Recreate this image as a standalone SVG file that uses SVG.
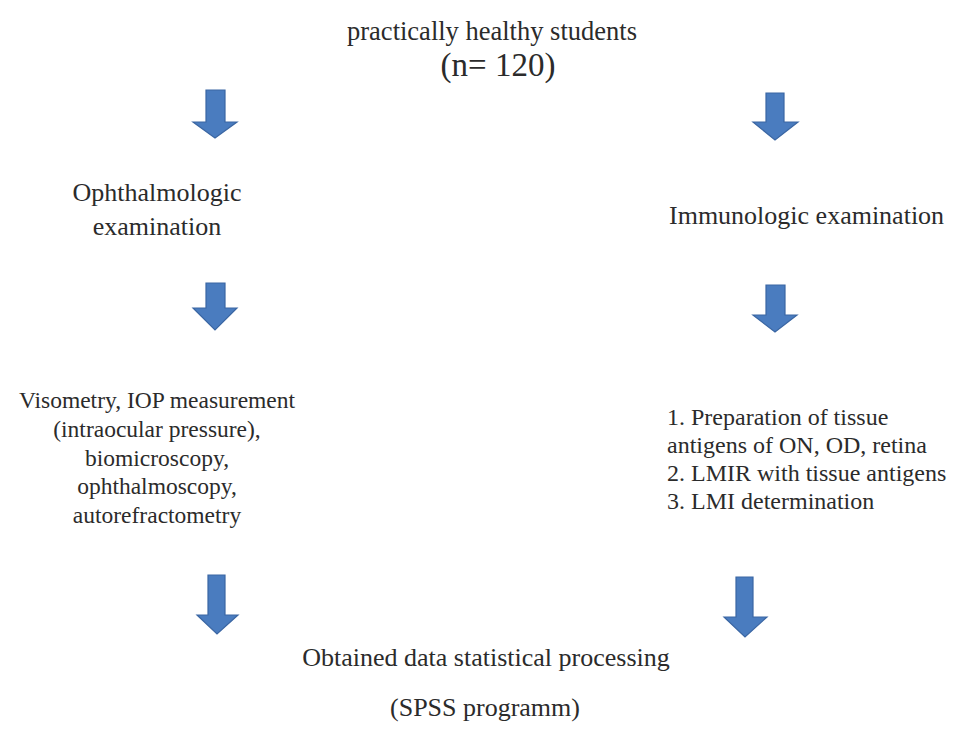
<svg xmlns="http://www.w3.org/2000/svg" width="960" height="732" viewBox="0 0 960 732">
<style>
text{font-family:"Liberation Serif","Times New Roman",serif;fill:#2b2b2b}
.t{font-size:26px}
.l{font-size:23.5px}
.r{font-size:24px}
.c{text-anchor:middle}
.arr{fill:#4a7cbf;stroke:#3a66a3;stroke-width:1.2;stroke-linejoin:miter}
</style>
<rect width="960" height="732" fill="#ffffff"/>
<g id="connectors">
<path class="arr" d="M206,90 H225 V122 H237 L215,138 L193,122 H206 Z"/>
<path class="arr" d="M766,93 H784 V122 H798 L775,140 L753,122 H766 Z"/>
<path class="arr" d="M206,283 H225 V308 H237 L215,330 L193,308 H206 Z"/>
<path class="arr" d="M766,285 H785 V315 H797 L775,332 L753,315 H766 Z"/>
<path class="arr" d="M208,575 H225 V615 H238 L217,634 L197,615 H208 Z"/>
<path class="arr" d="M736,577 H753 V617 H767 L745,637 L724,617 H736 Z"/>
</g>
<g id="start">
<text class="c" x="492" y="40" font-size="26.5">practically healthy students</text>
<text class="c" x="498" y="76" font-size="33">(n= 120)</text>
</g>
<g id="ophthalmologic">
<text class="t c" x="157" y="201">Ophthalmologic</text>
<text class="t c" x="157" y="235">examination</text>
</g>
<g id="immunologic">
<text class="t" x="669" y="224">Immunologic examination</text>
</g>
<g id="ophth-methods">
<text class="l c" x="157" y="408">Visometry, IOP measurement</text>
<text class="l c" x="157" y="437">(intraocular pressure),</text>
<text class="l c" x="157" y="466">biomicroscopy,</text>
<text class="l c" x="157" y="494">ophthalmoscopy,</text>
<text class="l c" x="157" y="523">autorefractometry</text>
</g>
<g id="immuno-methods">
<text class="r" x="667" y="425">1. Preparation of tissue</text>
<text class="r" x="667" y="453">antigens of ON, OD, retina</text>
<text class="r" x="667" y="481">2. LMIR with tissue antigens</text>
<text class="r" x="667" y="509">3. LMI determination</text>
</g>
<g id="result">
<text class="t c" x="486" y="666">Obtained data statistical processing</text>
<text class="t c" x="485" y="716">(SPSS programm)</text>
</g>
</svg>
